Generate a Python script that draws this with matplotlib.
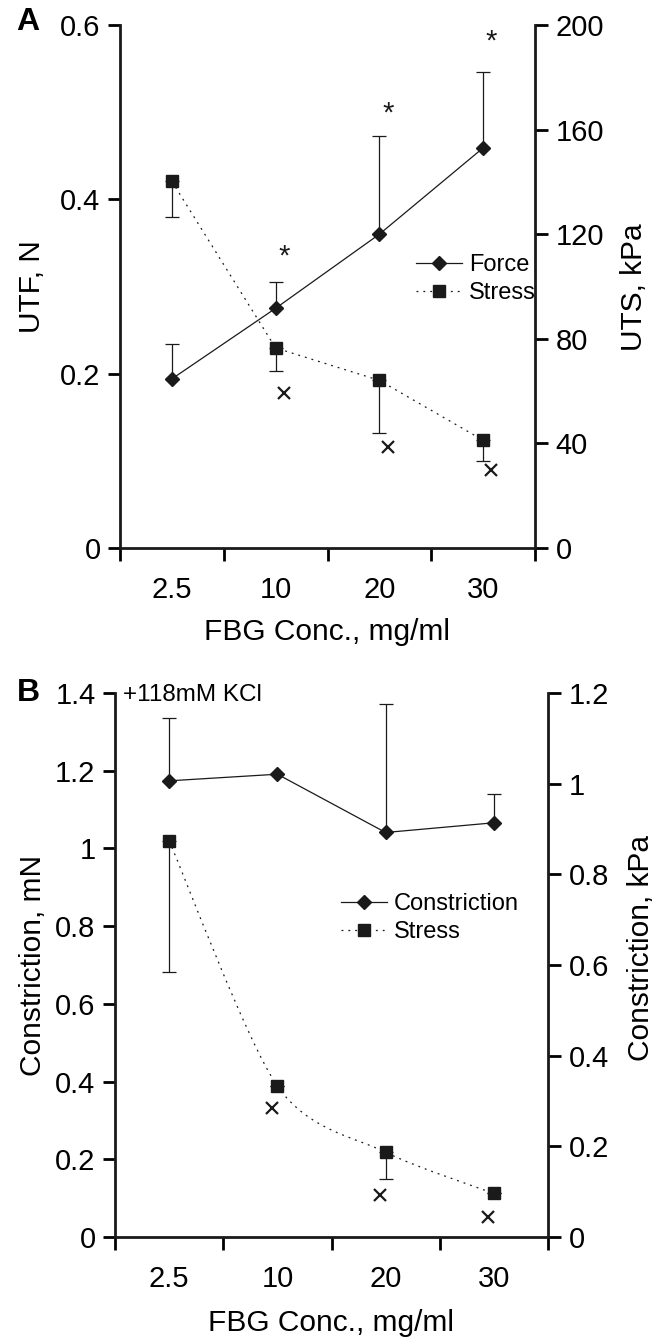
import matplotlib
matplotlib.use("Agg")
import matplotlib.pyplot as plt
import numpy as np
from matplotlib.lines import Line2D
from matplotlib.path import Path
from matplotlib.patches import PathPatch

plt.rcParams['font.family'] = ['Liberation Sans', 'DejaVu Sans']

# categories
conc_labels = ['2.5', '10', '20', '30']

# panel A: ultimate tensile force (N, left) and stress (kPa, right)
utf_force = [0.194, 0.275, 0.360, 0.459]
utf_force_err = [0.040, 0.030, 0.113, 0.087]
uts_stress = [140.2, 76.5, 64.1, 41.2]
uts_stress_err = [13.7, 9.0, 20.0, 7.9]
uts_cross = [59.4, 38.5, 29.7]          # x marks at 10, 20, 30
star_force = [0.334, 0.498, 0.581]       # asterisks at 10, 20, 30

# panel B: constriction (mN, left) and stress (kPa, right)
con_force = [1.174, 1.191, 1.041, 1.066]
con_force_err = [0.161, 0.0, 0.330, 0.073]
con_stress = [0.874, 0.333, 0.187, 0.096]
con_stress_err = [0.290, 0.0, 0.060, 0.0]
con_cross = [0.285, 0.093, 0.045]        # x marks at 10, 20, 30

W, H = 662, 1344
TICK_FS = 21
LAB_FS = 21.5
LEG_FS = 17
INK = '#1a1a1a'


def smooth_path(xs, ys, k=7.0):
    # Excel style smoothed line (cubic bezier through points)
    p = np.column_stack([xs, ys]).astype(float)
    n = len(p)
    verts = [p[0]]
    codes = [Path.MOVETO]
    for i in range(n - 1):
        p0 = p[max(i - 1, 0)]
        p3 = p[min(i + 2, n - 1)]
        c1 = p[i] + (p[i + 1] - p0) / k
        c2 = p[i + 1] - (p3 - p[i]) / k
        verts += [c1, c2, p[i + 1]]
        codes += [Path.CURVE4] * 3
    return Path(verts, codes)


def setup_axes(rect, lmax, lstep, rmax, rstep, rfmt):
    ax = fig.add_axes(rect)
    ax2 = ax.twinx()
    for a in (ax, ax2):
        a.spines['top'].set_visible(False)
        a.set_xlim(-0.5, 3.5)
        a.patch.set_visible(False)
    ax.spines['right'].set_visible(False)
    ax2.spines['left'].set_visible(False)
    ax2.spines['bottom'].set_visible(False)
    for a in (ax, ax2):
        for s in a.spines.values():
            s.set_linewidth(2.0)
            s.set_color(INK)
    ax.set_ylim(0, lmax)
    ax.set_yticks(np.arange(0, lmax + 1e-9, lstep))
    ax.set_yticklabels(['0'] + ['%g' % v for v in np.arange(lstep, lmax + 1e-9, lstep)])
    ax2.set_ylim(0, rmax)
    ax2.set_yticks(np.arange(0, rmax + 1e-9, rstep))
    ax2.set_yticklabels([rfmt(v) for v in np.arange(0, rmax + 1e-9, rstep)])
    ax.set_xticks(np.arange(-0.5, 3.6, 1.0))
    ax.set_xticklabels([])
    ax.set_xticks(np.arange(4), minor=True)
    ax.set_xticklabels(conc_labels, minor=True)
    ax.tick_params(axis='x', which='minor', length=0, pad=20, labelsize=TICK_FS)
    ax.tick_params(axis='x', which='major', length=9, width=2.0, direction='out')
    ax.tick_params(axis='y', length=9, width=2.0, pad=5, labelsize=TICK_FS)
    ax2.tick_params(axis='y', length=9, width=2.0, pad=6, labelsize=TICK_FS)
    return ax, ax2


fig = plt.figure(figsize=(W / 100, H / 100), dpi=100)
x = np.arange(4)

# ---------------- panel A ----------------
axA, axA2 = setup_axes([120 / W, 1 - 548 / H, 415 / W, 523 / H], 0.6, 0.2, 200, 40,
                       lambda v: '%d' % v)

axA.errorbar(x, utf_force, yerr=[np.zeros(4), utf_force_err], fmt='none',
             ecolor=INK, elinewidth=0.9, capsize=5, capthick=0.9, zorder=2)
axA.plot(x, utf_force, color=INK, lw=0.9, marker='D', ms=7, zorder=3)
axA2.errorbar(x, uts_stress, yerr=[uts_stress_err, np.zeros(4)], fmt='none',
              ecolor=INK, elinewidth=0.9, capsize=5, capthick=0.9, zorder=2)
axA2.plot(x, uts_stress, color=INK, lw=0.9, ls=(0, (1.5, 4)), marker='s', ms=8,
          zorder=3)
axA2.plot(x[1:] + 0.08, uts_cross, ls='none', marker='x', ms=9, mew=1.6, color=INK)
for xi, yi in zip(x[1:] + 0.08, star_force):
    axA.text(xi, yi, '*', fontsize=21, ha='center', va='center', color=INK)

handles = [Line2D([], [], color=INK, lw=0.9, marker='D', ms=7),
           Line2D([], [], color=INK, lw=0.9, ls=(0, (1.5, 4)), marker='s', ms=8)]
fig.legend(handles, ['Force', 'Stress'], loc='center left',
           bbox_to_anchor=(416 / W, 1 - 279 / H), frameon=False, fontsize=LEG_FS,
           handlelength=1.95, handletextpad=0.3, labelspacing=0.25,
           borderpad=0, borderaxespad=0)

fig.text(28 / W, 1 - 22 / H, 'A', fontsize=23, fontweight='bold', ha='center', va='center')
fig.text(32 / W, 1 - 287 / H, 'UTF, N', fontsize=LAB_FS, rotation=90, ha='center', va='center')
fig.text(634 / W, 1 - 287 / H, 'UTS, kPa', fontsize=LAB_FS, rotation=90, ha='center', va='center')
fig.text(327 / W, 1 - 632 / H, 'FBG Conc., mg/ml', fontsize=LAB_FS, ha='center', va='center')

# ---------------- panel B ----------------
axB, axB2 = setup_axes([115 / W, 1 - 1237 / H, 433 / W, 544 / H], 1.4, 0.2, 1.2, 0.2,
                       lambda v: '0' if v == 0 else '%g' % round(v, 1))

axB.errorbar(x, con_force, yerr=[np.zeros(4), con_force_err], fmt='none',
             ecolor=INK, elinewidth=0.9, capsize=5, capthick=0.9, zorder=2)
axB.plot(x, con_force, color=INK, lw=0.9, marker='D', ms=7, zorder=3)
axB2.errorbar(x, con_stress, yerr=[con_stress_err, np.zeros(4)], fmt='none',
              ecolor=INK, elinewidth=0.9, capsize=5, capthick=0.9, zorder=2)
axB2.add_patch(PathPatch(smooth_path(x, con_stress), fill=False, edgecolor=INK,
                         lw=0.9, ls=(0, (1.5, 4)), zorder=2))
axB2.plot(x, con_stress, ls='none', marker='s', ms=8, color=INK, zorder=3)
axB2.plot(x[1:] - 0.05, con_cross, ls='none', marker='x', ms=9, mew=1.6, color=INK)

handles = [Line2D([], [], color=INK, lw=0.9, marker='D', ms=7),
           Line2D([], [], color=INK, lw=0.9, ls=(0, (1.5, 4)), marker='s', ms=8)]
fig.legend(handles, ['Constriction', 'Stress'], loc='center left',
           bbox_to_anchor=(341 / W, 1 - 918 / H), frameon=False, fontsize=LEG_FS,
           handlelength=1.95, handletextpad=0.3, labelspacing=0.25,
           borderpad=0, borderaxespad=0)

fig.text(123 / W, 1 - 695 / H, '+118mM KCl', fontsize=17.5, ha='left', va='center')
fig.text(28 / W, 1 - 693 / H, 'B', fontsize=23, fontweight='bold', ha='center', va='center')
fig.text(33 / W, 1 - 965 / H, 'Constriction, mN', fontsize=LAB_FS, rotation=90,
         ha='center', va='center')
fig.text(641 / W, 1 - 948 / H, 'Constriction, kPa', fontsize=LAB_FS, rotation=90,
         ha='center', va='center')
fig.text(331 / W, 1 - 1323 / H, 'FBG Conc., mg/ml', fontsize=LAB_FS, ha='center', va='center')

fig.savefig('out.png', dpi=100)
